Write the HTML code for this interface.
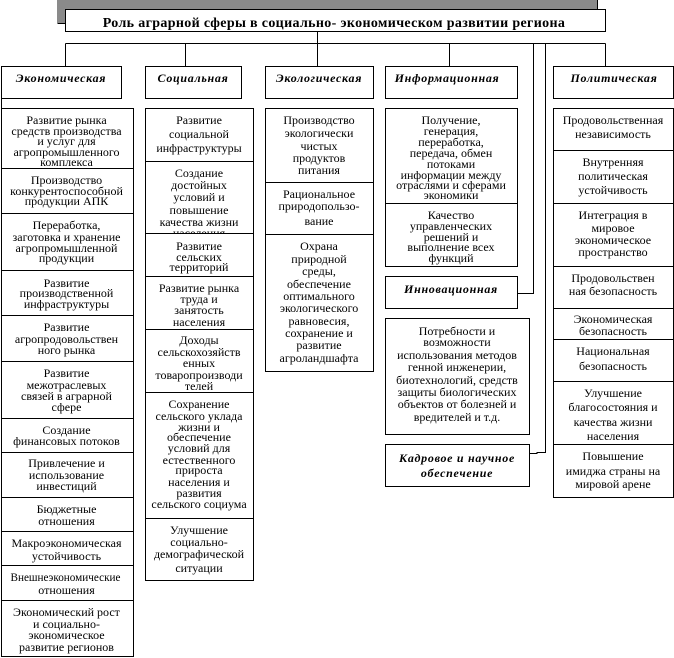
<!DOCTYPE html>
<html><head><meta charset="utf-8">
<style>
html,body{margin:0;padding:0;background:#fff;width:674px;height:658px;overflow:hidden}
svg{display:block}
text{font-family:"Liberation Serif","Noto Serif CJK SC",serif;font-size:12px;fill:#000;text-anchor:middle}
.h{font-weight:bold;font-style:italic;font-size:12px;letter-spacing:.7px}
.t{font-weight:bold;font-size:14px;letter-spacing:.34px}
.b{fill:#fff;stroke:#000;stroke-width:1}
path{fill:none;stroke:#000;stroke-width:1}
</style></head><body>
<svg width="674" height="658" viewBox="0 0 674 658" xmlns="http://www.w3.org/2000/svg" shape-rendering="crispEdges">
<rect x="57" y="0" width="540" height="23" fill="#8a8a8a"/>
<path d="M57.5 23.5H65.5M597.5 0V9"/>
<rect class="b" x="65.5" y="9.5" width="540" height="22"/>
<path d="M317.5 32V43.5M65.5 43.5H605.5M65.5 43.5V66M185.5 43.5V66M317.5 43.5V66M449.5 43.5V66M605.5 43.5V66M533.5 43.5V293.5H517M545.5 43.5V452.5H537V453.5H529M1.5 98V108"/>
<rect class="b" x="1.5" y="66.5" width="120" height="32"/>
<rect class="b" x="145.5" y="66.5" width="96" height="32"/>
<rect class="b" x="265.5" y="66.5" width="108" height="32"/>
<rect class="b" x="385.5" y="66.5" width="132" height="32"/>
<rect class="b" x="553.5" y="66.5" width="120" height="32"/>
<rect class="b" x="1.5" y="108.5" width="132" height="548"/>
<rect class="b" x="145.5" y="108.5" width="108" height="472"/>
<rect class="b" x="265.5" y="108.5" width="108" height="263"/>
<rect class="b" x="385.5" y="108.5" width="132" height="158"/>
<rect class="b" x="385.5" y="276.5" width="132" height="32"/>
<rect class="b" x="385.5" y="318.5" width="144" height="116"/>
<rect class="b" x="385.5" y="444.5" width="144" height="42"/>
<rect class="b" x="553.5" y="108.5" width="120" height="389"/>

<g transform="translate(0,4)">
<text class="t" x="334" y="23">Роль аграрной сферы в социально- экономическом развитии региона</text>
<g class="h">
<text class="h" x="61" y="78">Экономическая</text>
<text class="h" x="193" y="78">Социальная</text>
<text class="h" x="319" y="78">Экологическая</text>
<text class="h" x="447" y="78">Информационная</text>
<text class="h" x="614" y="78">Политическая</text>
<text class="h" x="451" y="289">Инновационная</text>
<text class="h" x="457" y="458">Кадровое и научное</text>
<text class="h" x="457" y="473">обеспечение</text>
</g>
<g id="eco">
<text x="66.5" y="120">Развитие рынка</text>
<text x="66.5" y="131">средств производства</text>
<text x="66.5" y="141">и услуг для</text>
<text x="66.5" y="152">агропромышленного</text>
<text x="66.5" y="162">комплекса</text>
<text x="66.5" y="180">Производство</text>
<text x="66.5" y="191">конкурентоспособной</text>
<text x="66.5" y="201">продукции АПК</text>
<text x="66.5" y="225">Переработка,</text>
<text x="66.5" y="237">заготовка и хранение</text>
<text x="66.5" y="248">агропромышленной</text>
<text x="66.5" y="258">продукции</text>
<text x="66.5" y="283">Развитие</text>
<text x="66.5" y="293">производственной</text>
<text x="66.5" y="304">инфраструктуры</text>
<text x="66.5" y="327">Развитие</text>
<text x="66.5" y="339">агропродовольствен</text>
<text x="66.5" y="350">ного рынка</text>
<text x="66.5" y="373">Развитие</text>
<text x="66.5" y="385">межотраслевых</text>
<text x="66.5" y="396">связей в аграрной</text>
<text x="66.5" y="407">сфере</text>
<text x="66.5" y="430">Создание</text>
<text x="66.5" y="441">финансовых потоков</text>
<text x="66.5" y="463">Привлечение и</text>
<text x="66.5" y="475">использование</text>
<text x="66.5" y="486">инвестиций</text>
<text x="66.5" y="509">Бюджетные</text>
<text x="66.5" y="521">отношения</text>
<text x="66.5" y="543">Макроэкономическая</text>
<text x="66.5" y="556">устойчивость</text>
<text x="65.5" y="577" textLength="110" lengthAdjust="spacingAndGlyphs">Внешнеэкономические</text>
<text x="66.5" y="590">отношения</text>
<text x="66.5" y="612">Экономический рост</text>
<text x="66.5" y="624">и социально-</text>
<text x="66.5" y="635">экономическое</text>
<text x="66.5" y="647">развитие регионов</text>
</g>
<g id="soc">
<text x="199" y="120">Развитие</text>
<text x="199" y="134">социальной</text>
<text x="199" y="148">инфраструктуры</text>
<text x="199" y="173">Создание</text>
<text x="199" y="185">достойных</text>
<text x="199" y="197">условий и</text>
<text x="199" y="210">повышение</text>
<text x="199" y="222">качества жизни</text>
<text x="199" y="233">населения</text>
</g>
</g>
<rect x="146" y="234" width="107" height="9" fill="#fff"/>
<g transform="translate(0,4)">
<text x="199" y="246">Развитие</text>
<text x="199" y="257">сельских</text>
<text x="199" y="267">территорий</text>
<text x="199" y="288">Развитие рынка</text>
<text x="199" y="299">труда и</text>
<text x="199" y="310">занятость</text>
<text x="199" y="322">населения</text>
<text x="199" y="340">Доходы</text>
<text x="199" y="352">сельскохозяйств</text>
<text x="199" y="363">енных</text>
<text x="199" y="375">товаропроизводи</text>
<text x="199" y="386">телей</text>
<text x="199" y="404">Сохранение</text>
<text x="199" y="416">сельского уклада</text>
<text x="199" y="427">жизни и</text>
<text x="199" y="437">обеспечение</text>
<text x="199" y="448">условий для</text>
<text x="199" y="460">естественного</text>
<text x="199" y="470">прироста</text>
<text x="199" y="482">населения и</text>
<text x="199" y="493">развития</text>
<text x="199" y="504">сельского социума</text>
<text x="199" y="530">Улучшение</text>
<text x="199" y="542">социально-</text>
<text x="199" y="554">демографической</text>
<text x="199" y="568">ситуации</text>

<text x="319" y="120">Производство</text>
<text x="319" y="133">экологически</text>
<text x="319" y="146">чистых</text>
<text x="319" y="158">продуктов</text>
<text x="319" y="170">питания</text>
<text x="319" y="194">Рациональное</text>
<text x="319" y="206">природопользо-</text>
<text x="319" y="221">вание</text>
<text x="319" y="246">Охрана</text>
<text x="319" y="259">природной</text>
<text x="319" y="271">среды,</text>
<text x="319" y="284">обеспечение</text>
<text x="319" y="296">оптимального</text>
<text x="319" y="308">экологического</text>
<text x="319" y="321">равновесия,</text>
<text x="319" y="333">сохранение и</text>
<text x="319" y="345">развитие</text>
<text x="319" y="358">агроландшафта</text>

<text x="451" y="120">Получение,</text>
<text x="451" y="131">генерация,</text>
<text x="451" y="142">переработка,</text>
<text x="451" y="153">передача, обмен</text>
<text x="451" y="164">потоками</text>
<text x="451" y="175">информации между</text>
<text x="451" y="185">отраслями и сферами</text>
<text x="451" y="195">экономики</text>
<text x="451" y="215">Качество</text>
<text x="451" y="226">управленческих</text>
<text x="451" y="237">решений и</text>
<text x="451" y="247">выполнение всех</text>
<text x="451" y="258">функций</text>

<text x="457" y="331">Потребности и</text>
<text x="457" y="342">возможности</text>
<text x="457" y="355">использования методов</text>
<text x="457" y="367">генной инженерии,</text>
<text x="457" y="380">биотехнологий, средств</text>
<text x="457" y="392">защиты биологических</text>
<text x="457" y="404">объектов от болезней и</text>
<text x="457" y="417">вредителей и т.д.</text>

<text x="613" y="120">Продовольственная</text>
<text x="613" y="134">независимость</text>
<text x="613" y="162">Внутренняя</text>
<text x="613" y="176">политическая</text>
<text x="613" y="190">устойчивость</text>
<text x="613" y="215">Интеграция в</text>
<text x="613" y="228">мировое</text>
<text x="613" y="240">экономическое</text>
<text x="613" y="252">пространство</text>
<text x="613" y="278">Продовольствен</text>
<text x="613" y="291">ная безопасность</text>
<text x="613" y="319">Экономическая</text>
<text x="613" y="331">безопасность</text>
<text x="613" y="351">Национальная</text>
<text x="613" y="366">безопасность</text>
<text x="613" y="393">Улучшение</text>
<text x="613" y="407">благосостояния и</text>
<text x="613" y="422">качества жизни</text>
<text x="613" y="436">населения</text>
<text x="613" y="456">Повышение</text>
<text x="613" y="471">имиджа страны на</text>
<text x="613" y="484">мировой арене</text>
</g>

<path d="M1 168.5H133M1 213.5H133M1 270.5H133M1 315.5H133M1 361.5H133M1 418.5H133M1 452.5H133M1 497.5H133M1 531.5H133M1 565.5H133M1 600.5H133"/>
<path d="M145 161.5H253M145 233.5H253M145 276.5H253M145 329.5H253M145 392.5H253M145 518.5H253"/>
<path d="M265 182.5H373M265 234.5H373"/>
<path d="M385 203.5H517"/>
<path d="M553 150.5H673M553 203.5H673M553 266.5H673M553 308.5H673M553 339.5H673M553 381.5H673M553 444.5H673"/>
</svg>
</body></html>
